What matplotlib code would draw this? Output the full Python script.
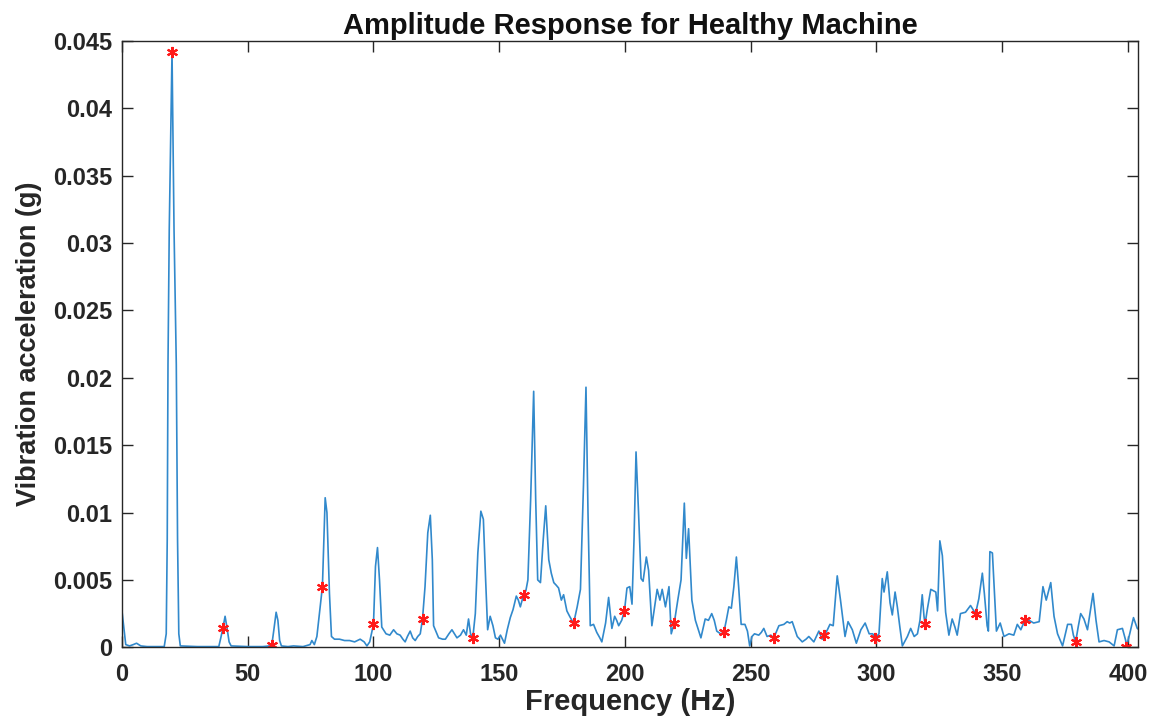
import numpy as np
import matplotlib.pyplot as plt
from matplotlib.ticker import FuncFormatter

# spectrum (Hz, g)
freq = [0.0, 0.7, 1.5, 3.0, 4.5, 5.8, 7.5, 10, 16.8, 17.6, 18.0, 18.3, 18.8, 19.9, 20.7, 21.6, 22.1, 22.6, 23.2,
        30, 38.5, 39.3, 40.1, 41.0, 41.8, 42.6, 43.4, 50, 56, 58.8, 59.6, 60.4, 61.3, 62.0, 62.7, 63.4, 66.0, 68.2,
        72, 74.8, 75.5, 76.5, 77.5, 78.7, 79.7, 80.8, 81.5, 82.5, 83.3, 84.5, 86.5, 88.5, 90.5, 92.5, 94.7, 96.3,
        97.4, 98.5, 100.0, 100.8, 101.6, 102.4, 103.3, 105.0, 106.5, 108.0, 109.3, 110.6, 111.7, 112.6, 113.5,
        114.6, 115.6, 116.6, 117.6, 118.6, 119.5, 120.5, 121.6, 122.6, 123.4, 123.9, 125.9, 127.5, 128.6, 130.0,
        131.2, 132.2, 133.2, 134.6, 135.8, 136.9, 137.8, 138.6, 139.5, 140.5, 141.5, 142.7, 143.7, 144.6, 145.4,
        146.4, 147.5, 148.5, 149.5, 150.5, 151.3, 152.1, 153.2, 154.4, 155.5, 156.8, 157.6, 158.4, 159.7, 160.6,
        161.4, 162.5, 163.7, 164.5, 165.3, 166.4, 167.5, 168.5, 169.7, 170.7, 171.7, 172.7, 173.6, 174.7, 175.6,
        176.9, 178.0, 178.9, 179.6, 181.0, 182.3, 183.5, 184.5, 185.3, 186.2, 187.5, 188.8, 190.0, 190.8, 192.3,
        193.5, 194.8, 195.9, 196.7, 197.5, 198.7, 199.8, 200.8, 201.9, 202.8, 203.6, 204.4, 205.4, 206.4, 207.2,
        208.5, 209.4, 210.7, 211.8, 212.8, 213.9, 214.8, 216.1, 217.5, 218.4, 219.6, 221.0, 222.3, 223.6, 224.4,
        225.3, 226.6, 228.0, 229.2, 230.2, 231.9, 233.2, 234.5, 235.5, 236.5, 238.0, 239.3, 240.3, 241.3, 242.3,
        243.3, 244.3, 245.2, 246.2, 247.7, 248.7, 249.6, 250.5, 251.5, 253.2, 254.2, 255.2, 256.5, 258.0, 259.2,
        261.2, 263.2, 264.5, 265.5, 266.5, 268.5, 270.5, 272.0, 273.1, 275.1, 277.1, 278.4, 279.3, 280.5, 281.5,
        282.8, 284.4, 285.7, 287.5, 288.7, 290.4, 292.0, 293.8, 295.5, 297.1, 298.5, 299.6, 301.0, 302.3, 303.0,
        304.3, 305.4, 306.3, 307.4, 308.3, 309.3, 310.3, 312.3, 313.6, 315.0, 316.3, 317.3, 318.2, 318.9, 319.3,
        320.3, 321.6, 322.6, 323.6, 324.3, 325.2, 326.2, 327.5, 328.8, 330.1, 331.2, 332.1, 333.4, 335.4, 337.4,
        338.4, 339.4, 340.7, 342.1, 342.9, 344.0, 344.5, 345.1, 346.1, 347.7, 349.2, 350.7, 352.7, 354.6, 356.0,
        357.4, 359.0, 360.7, 362.5, 364.7, 366.2, 367.5, 369.3, 370.6, 372.0, 374.0, 376.0, 377.5, 378.3, 379.2,
        380.2, 381.2, 382.5, 383.9, 386.1, 387.3, 388.5, 390.5, 392.5, 394.5, 395.8, 397.8, 399.1, 399.4, 400.7,
        402.2, 403.7, 404.5]
amp = [0.0027, 0.0015, 0.0002, 0.0001, 0.0002, 0.0003, 0.0001, 0.00005, 0.00005, 0.001, 0.008, 0.021, 0.031,
       0.0442, 0.031, 0.021, 0.008, 0.001, 0.0001,
       0.00005, 0.00005, 0.0007, 0.0014, 0.0023, 0.0014, 0.0004, 0.0001, 0.00005, 0.00005, 0.0001, 0.0002, 0.0013,
       0.0026, 0.0020, 0.0005, 0.0001, 0.00005, 0.0001,
       0.00005, 0.0002, 0.0005, 0.0002, 0.0008, 0.0028, 0.0045, 0.0111, 0.0100, 0.0040, 0.0008, 0.0006, 0.0006,
       0.0005, 0.0005, 0.0004, 0.0006, 0.0004,
       0.0001, 0.0004, 0.0017, 0.0060, 0.0074, 0.0050, 0.0015, 0.0010, 0.0009, 0.0013, 0.0010, 0.0009, 0.0006,
       0.0004, 0.0008,
       0.0012, 0.0007, 0.0005, 0.0008, 0.0010, 0.0021, 0.0045, 0.0085, 0.0098, 0.0065, 0.0016, 0.0007, 0.0006,
       0.0006, 0.0010,
       0.0013, 0.0010, 0.0007, 0.0009, 0.0013, 0.0009, 0.0021, 0.0010, 0.0007, 0.0025, 0.0070, 0.0101, 0.0095,
       0.0050, 0.0013,
       0.0023, 0.0016, 0.0007, 0.0006, 0.0009, 0.0006, 0.0003, 0.0013, 0.0022, 0.0028, 0.0038, 0.0035, 0.0030,
       0.0039, 0.0042,
       0.0050, 0.0110, 0.0190, 0.0110, 0.0050, 0.0048, 0.0080, 0.0105, 0.0065, 0.0055, 0.0048, 0.0046, 0.0044,
       0.0035, 0.0039,
       0.0027, 0.0023, 0.0020, 0.0018, 0.0030, 0.0043, 0.0120, 0.0193, 0.0100, 0.0016, 0.0017, 0.0011, 0.0007,
       0.0004, 0.0018,
       0.0037, 0.0014, 0.0023, 0.0020, 0.0016, 0.0020, 0.0027, 0.0044, 0.0045, 0.0032, 0.0080, 0.0145, 0.0100,
       0.0051, 0.0049,
       0.0067, 0.0057, 0.0016, 0.0030, 0.0043, 0.0035, 0.0043, 0.0030, 0.0045, 0.0010, 0.0018, 0.0035, 0.0050,
       0.0107, 0.0066,
       0.0088, 0.0035, 0.0020, 0.0013, 0.0007, 0.0021, 0.0020, 0.0025, 0.0020, 0.0012, 0.0010, 0.0011, 0.0020,
       0.0030, 0.0029,
       0.0045, 0.0067, 0.0045, 0.0017, 0.0017, 0.0012, 0.0001, 0.0008, 0.0010, 0.0009, 0.0011, 0.0014, 0.0008,
       0.0009, 0.0007,
       0.0016, 0.0017, 0.0019, 0.0018, 0.0019, 0.0008, 0.0004, 0.0006, 0.0008, 0.0004, 0.0012, 0.0006, 0.0009,
       0.0013, 0.0017,
       0.0016, 0.0053, 0.0035, 0.0008, 0.0019, 0.0013, 0.0003, 0.0013, 0.0018, 0.0010, 0.0010, 0.0007, 0.0010,
       0.0051, 0.0041,
       0.0056, 0.0033, 0.0024, 0.0041, 0.0030, 0.0015, 0.0001, 0.0008, 0.0014, 0.0008, 0.0010, 0.0020, 0.0039,
       0.0023, 0.0017,
       0.0029, 0.0043, 0.0042, 0.0041, 0.0027, 0.0079, 0.0068, 0.0026, 0.0009, 0.0021, 0.0015, 0.0009, 0.0025,
       0.0026, 0.0031,
       0.0028, 0.0025, 0.0036, 0.0055, 0.0040, 0.0016, 0.0012, 0.0071, 0.0070, 0.0012, 0.0018, 0.0008, 0.0010,
       0.0009, 0.0017,
       0.0013, 0.0020, 0.0020, 0.0018, 0.0019, 0.0045, 0.0035, 0.0048, 0.0023, 0.0010, 0.0001, 0.0017, 0.0017,
       0.0009, 0.0004,
       0.0015, 0.0025, 0.0021, 0.0013, 0.0040, 0.0020, 0.0004, 0.0005, 0.0004, 0.0001, 0.0013, 0.0014, 0.0005,
       0.00005, 0.0010,
       0.0022, 0.0014, 0.0013]

# harmonic markers
mk_f = [19.9, 40.1, 59.6, 79.7, 100.0, 119.5, 139.5, 159.7, 179.6, 199.8,
        219.6, 239.3, 259.2, 279.3, 299.6, 319.3, 339.4, 359.0, 379.2, 399.4]
mk_a = [0.0442, 0.0014, 0.0002, 0.0045, 0.0017, 0.0021, 0.0007, 0.0039, 0.0018, 0.0027,
        0.0018, 0.0011, 0.0007, 0.0009, 0.0007, 0.0017, 0.0025, 0.0020, 0.0004, 0.00005]

x_ticks = [0, 50, 100, 150, 200, 250, 300, 350, 400]
y_ticks = [0, 0.005, 0.01, 0.015, 0.02, 0.025, 0.03, 0.035, 0.04, 0.045]

plt.rcParams['font.family'] = ['Liberation Sans', 'DejaVu Sans']
plt.rcParams['font.weight'] = 'bold'

fig = plt.figure(figsize=(11.55, 7.22), dpi=100)
ax = fig.add_axes([0.1056, 0.1035, 0.8797, 0.8397])

ax.plot(freq, amp, color='#3189cc', lw=1.2)
ax.plot(mk_f, mk_a, ls='none', marker=(6, 2, 0), ms=8, mew=1.5, color='#ff1a1a')

ax.set_xlim(0, 404)
ax.set_ylim(0, 0.045)
ax.set_xticks(x_ticks)
ax.set_yticks(y_ticks)
ax.yaxis.set_major_formatter(FuncFormatter(lambda v, p: f"{v:g}"))

ax.tick_params(direction='in', length=8, width=1, top=True, right=True,
               labelsize=17, colors='#262626')
ax.tick_params(axis='x', pad=11)
ax.tick_params(axis='y', pad=7)
for s in ax.spines.values():
    s.set_color('#262626')
    s.set_linewidth(1)

ax.set_xlabel('Frequency (Hz)', fontsize=21, fontweight='bold', color='#262626', labelpad=2)
ax.set_ylabel('Vibration acceleration (g)', fontsize=19.5, fontweight='bold', color='#262626', labelpad=8)
ax.set_title('Amplitude Response for Healthy Machine', fontsize=21, fontweight='bold', color='#111111', pad=5)

fig.savefig('out.png', dpi=100)
